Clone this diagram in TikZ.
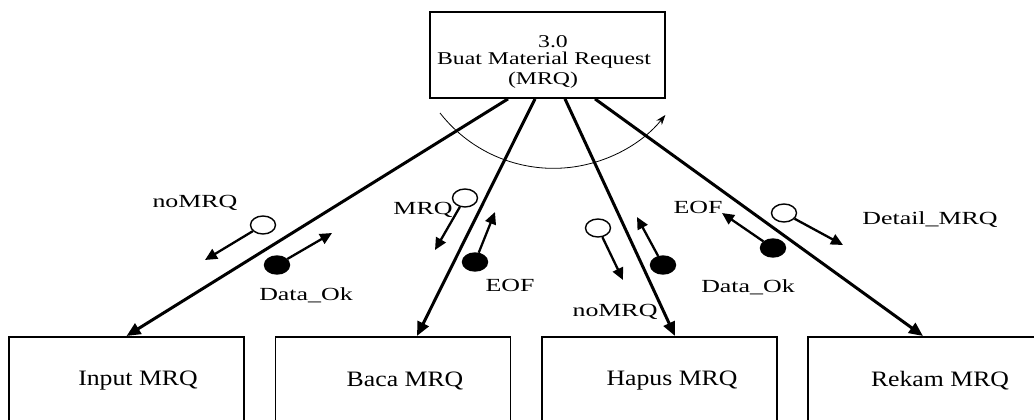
\documentclass[tikz,border=0pt]{standalone}
\usepackage{fontspec}
\setmainfont{Liberation Serif}
\usepackage{graphicx}
\usetikzlibrary{arrows.meta,shapes.geometric}
\newcommand{\wx}[2]{\scalebox{#1}[1]{#2}}
\begin{document}
\begin{tikzpicture}[x=1pt,y=-1pt,
  proc/.style={draw, line width=1.8pt, minimum width=235pt, minimum height=86pt, inner sep=0pt},
  subbox/.style={draw, line width=1.8pt, minimum width=235pt, minimum height=110pt, inner sep=0pt, anchor=north},
  flow/.style={line width=3pt, -{Triangle[length=14pt,width=12pt]}, line join=miter},
  couple/.style={line width=2.3pt, -{Triangle[length=12pt,width=11pt]}, line join=miter},
  opencp/.style={draw, ellipse, line width=1.4pt, minimum width=25pt, minimum height=18pt, inner sep=0pt, fill=white},
  fullcp/.style={opencp, fill=black},
  lbl/.style={font=\fontsize{18.5}{20}\selectfont, inner sep=0pt},
  toptxt/.style={font=\fontsize{18}{20}\selectfont, inner sep=0pt},
  boxtxt/.style={font=\fontsize{22}{24}\selectfont, inner sep=0pt}
]
\clip (0,0) rectangle (1034,420);
\fill[white] (0,0) rectangle (1034,420);

% top process
\node[proc] (top) at (547.5,55) {};
\node[toptxt] (n30) at (553,42) {\wx{1.32}{3.0}};
\node[toptxt] (nbuat) at (544,60) {\wx{1.32}{Buat Material Request}};
\node[toptxt] (nmrq) at (543,80) {\wx{1.32}{(MRQ)}};

% sub processes
\node[subbox] (b1) at (126.5,336) {};
\node[subbox] (b2) at (393,336) {};
\node[subbox] (b3) at (659.5,336) {};
\node[subbox] (b4) at (925.5,336) {};
\node[boxtxt] (l1) at (138,381) {\wx{1.17}{Input MRQ}};
\node[boxtxt] (l2) at (405,381) {\wx{1.17}{Baca MRQ}};
\node[boxtxt] (l3) at (672,381) {\wx{1.17}{Hapus MRQ}};
\node[boxtxt] (l4) at (940,381) {\wx{1.17}{Rekam MRQ}};

% main flows
\draw[flow] ([xshift=-39.5pt]top.south) -- (b1.north);
\draw[flow] ([xshift=-12.5pt]top.south) -- ([xshift=24pt]b2.north);
\draw[flow] ([xshift=17.5pt]top.south) -- ([xshift=15.5pt]b3.north);
\draw[flow] ([xshift=47.5pt]top.south) -- ([xshift=-2.5pt]b4.north);

% iteration arc
\coordinate (arcs) at (440,113);
\draw[line width=0.8pt, -{Stealth[length=10pt,width=7pt]}] (arcs) arc[start angle=142, end angle=39, radius=144];

% couples: Input
\node[opencp] (c1) at (263,225) {};
\coordinate (t1) at (205,260);
\draw[couple] (c1) -- (t1);
\node[fullcp] (c2) at (277,265) {};
\coordinate (t2) at (332,233);
\draw[couple] (c2) -- (t2);
\node[lbl] (k1) at (195,203) {\wx{1.4}{noMRQ}};
\node[lbl] (k2) at (306,295) {\wx{1.4}{Data\_Ok}};

% couples: Baca
\node[lbl] (k3) at (423,210) {\wx{1.4}{MRQ}};
\node[opencp] (c3) at (465,198) {};
\coordinate (t3) at (435,250);
\draw[couple] (c3) -- (t3);
\node[fullcp] (c4) at (475,262) {};
\coordinate (t4) at (495,212);
\draw[couple] (c4) -- (t4);
\node[lbl] (k4) at (510,285) {\wx{1.4}{EOF}};

% couples: Hapus
\node[opencp] (c5) at (598,228) {};
\coordinate (t5) at (623,280);
\draw[couple] (c5) -- (t5);
\node[fullcp] (c6) at (663,265) {};
\coordinate (t6) at (637,217);
\draw[couple] (c6) -- (t6);
\node[lbl] (k5) at (615,312) {\wx{1.4}{noMRQ}};

% couples: Rekam
\node[fullcp] (c7) at (773,248) {};
\coordinate (t7) at (722,213);
\draw[couple] (c7) -- (t7);
\node[lbl] (k6) at (698,207) {\wx{1.4}{EOF}};
\node[lbl] (k7) at (748,287) {\wx{1.4}{Data\_Ok}};
\node[opencp] (c8) at (784,213) {};
\coordinate (t8) at (843,245);
\draw[couple] (c8) -- (t8);
\node[lbl] (k8) at (930,220) {\wx{1.4}{Detail\_MRQ}};
\end{tikzpicture}
\end{document}
